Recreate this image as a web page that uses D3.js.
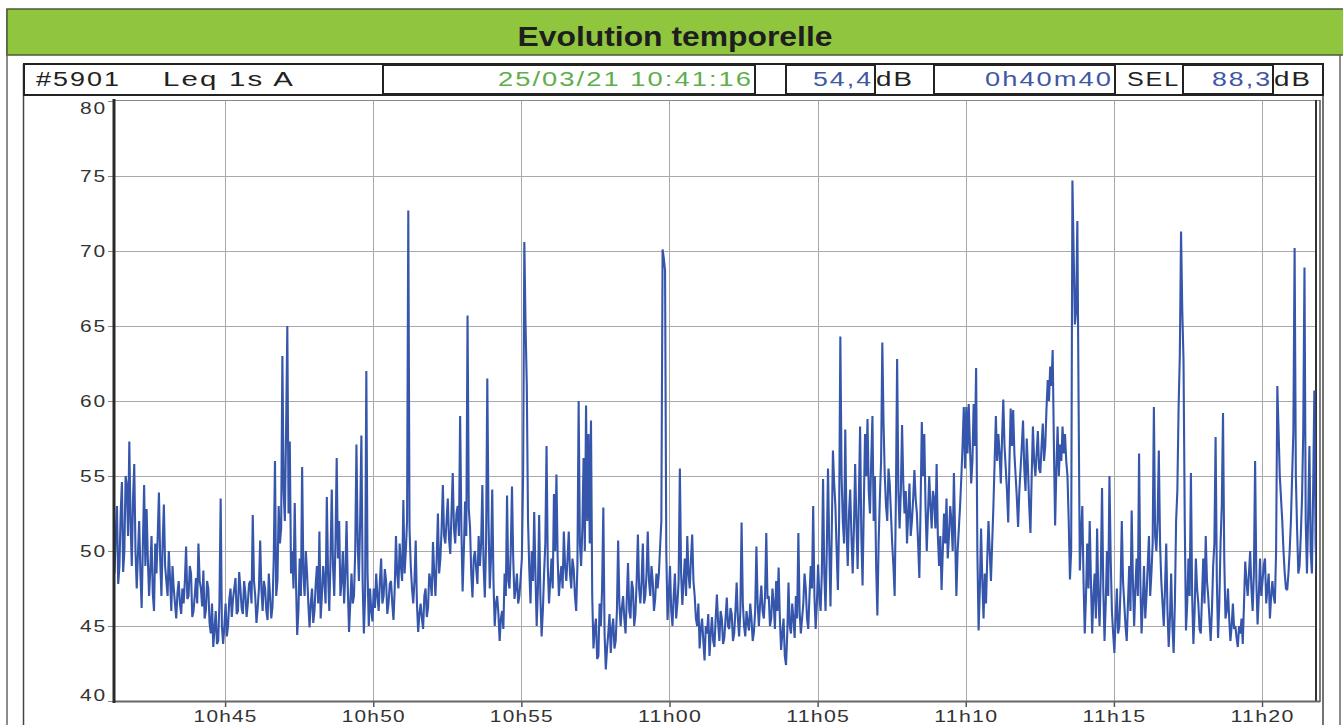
<!DOCTYPE html>
<html>
<head>
<meta charset="utf-8">
<script src="https://cdn.jsdelivr.net/npm/d3@7"></script>
<style>
  body { margin: 0; background: #fff; }
  svg { display: block; }
  text { font-family: "Liberation Sans", Arial, Helvetica, sans-serif; }
</style>
</head>
<body>
<svg id="chart" width="1343" height="725"></svg>
<script>
// Measurement: Leq 1s, A-weighted, one value every 2.5 s from the start time.
const startTime = "2021-03-25T10:41:16";
const endTime = "2021-03-25T11:21:56";
const stepSeconds = 2.5;

const leqValues = [
  48.5, 51.2, 53.0, 47.8, 49.0, 52.5, 54.6, 48.6, 50.0, 55.0, 54.4, 51.0,
  57.3, 52.0, 49.0, 53.5, 55.8, 50.0, 47.5, 49.8, 52.0, 48.5, 46.2, 50.5,
  54.4, 49.0, 52.8, 49.5, 47.0, 48.8, 51.0, 47.2, 46.0, 50.5, 48.5, 51.0,
  53.9, 49.5, 47.0, 50.5, 53.1, 49.0, 48.0, 47.0, 50.0, 48.2, 46.0, 49.0,
  47.5, 46.5, 45.5, 47.2, 48.0, 46.5, 45.8, 47.5, 46.5, 48.0, 50.3, 46.8,
  47.0, 49.0, 48.5, 45.6, 46.0, 47.0, 48.2, 46.5, 50.5, 48.0, 47.5, 46.3,
  48.7, 45.5, 46.0, 48.0, 47.5, 45.2, 44.5, 46.5, 43.6, 44.8, 46.0, 43.8,
  44.0, 46.5, 53.5, 45.0, 43.8, 45.0, 46.5, 44.3, 45.0, 46.8, 47.5, 45.6,
  46.8, 47.5, 48.2, 45.8, 46.0, 48.6, 47.5, 46.2, 45.8, 48.0, 47.2, 45.6,
  46.5, 47.8, 48.0, 46.5, 52.4, 48.0, 47.0, 45.2, 46.2, 47.5, 50.7, 47.5,
  46.0, 48.0, 47.5, 46.0, 45.4, 48.5, 47.0, 45.5, 46.3, 49.5, 56.0, 47.0,
  48.0, 53.0, 50.5, 51.5, 63.0, 54.0, 52.0, 58.0, 65.0, 52.5, 57.3, 48.5,
  50.0, 47.5, 53.2, 48.0, 44.4, 46.0, 49.5, 47.0, 55.6, 48.5, 47.0, 50.0,
  48.5, 46.5, 44.9, 46.5, 47.5, 45.2, 46.0, 47.8, 49.0, 46.5, 51.3, 45.5,
  47.0, 49.0, 48.0, 46.5, 53.6, 48.5, 46.0, 49.5, 54.1, 49.0, 47.0, 50.5,
  56.2, 49.5, 52.0, 47.0, 48.0, 50.0, 46.5, 48.5, 52.0, 47.5, 44.6, 46.5,
  48.5, 46.5, 47.0, 50.0, 57.1, 50.5, 48.0, 52.0, 57.7, 48.0, 44.5, 47.0,
  62.0, 48.5, 45.0, 47.5, 46.0, 45.3, 47.5, 46.2, 48.5, 47.0, 46.0, 48.0,
  49.5, 46.5, 47.0, 48.8, 48.0, 45.8, 46.5, 47.8, 48.0, 46.5, 45.4, 47.5,
  51.0, 48.5, 47.5, 50.5, 49.0, 48.0, 53.4, 48.5, 50.0, 52.0, 72.7, 51.5,
  49.0, 47.5, 46.5, 48.0, 50.7, 46.5, 44.6, 45.8, 46.5, 45.5, 44.8, 47.0,
  47.5, 45.6, 46.2, 48.5, 48.0, 47.0, 50.6, 48.5, 47.0, 49.5, 52.5, 48.5,
  49.5, 51.5, 54.4, 51.0, 50.5, 52.0, 53.5, 50.8, 49.8, 52.5, 55.2, 51.5,
  50.5, 52.5, 53.0, 51.0, 59.0, 51.5, 47.3, 50.0, 53.3, 51.0, 65.7, 52.8,
  51.6, 48.5, 46.9, 49.5, 50.0, 48.8, 47.8, 51.0, 49.0, 50.5, 54.4, 49.0,
  46.9, 50.5, 61.5, 52.0, 47.5, 49.5, 54.1, 48.0, 45.0, 46.5, 47.0, 45.8,
  44.0, 45.5, 46.0, 44.8, 48.5, 47.0, 53.7, 48.0, 47.5, 50.0, 54.3, 49.5,
  46.8, 47.5, 48.5, 46.5, 47.0, 48.2, 49.5, 55.0, 70.6, 65.0, 61.0, 52.0,
  48.8, 46.5, 50.0, 48.0, 52.6, 48.5, 45.0, 47.5, 52.4, 47.0, 44.3, 46.0,
  48.5, 50.5, 57.0, 49.0, 46.5, 48.0, 49.5, 47.5, 53.8, 50.0, 55.1, 49.5,
  47.0, 48.2, 49.0, 47.5, 51.3, 49.0, 48.0, 49.5, 51.3, 48.5, 47.5, 49.5,
  48.8, 47.0, 46.0, 49.0, 60.0, 50.5, 49.0, 51.5, 56.2, 50.0, 59.7, 52.0,
  57.8, 50.5, 58.7, 47.0, 43.5, 44.8, 45.5, 42.8, 43.0, 46.5, 45.0, 47.5,
  52.9, 44.5, 42.1, 43.5, 44.5, 45.8, 43.2, 44.8, 45.5, 43.5, 44.0, 46.0,
  50.7, 46.5, 45.0, 46.2, 47.0, 45.5, 44.5, 46.8, 49.2, 46.0, 45.5, 48.0,
  47.5, 45.0, 45.8, 48.0, 51.1, 47.5, 46.5, 48.0, 50.5, 46.5, 47.0, 48.5,
  51.3, 48.0, 47.0, 49.0, 48.0, 46.0, 46.8, 48.5, 47.5, 48.5, 50.3, 52.0,
  70.1, 69.5, 68.7, 50.0, 45.4, 47.0, 49.0, 46.0, 45.0, 47.0, 48.5, 45.5,
  46.5, 48.0, 55.5, 48.5, 46.4, 48.0, 49.5, 47.0, 51.0, 48.5, 47.5, 49.5,
  51.1, 48.0, 47.0, 45.5, 45.0, 46.5, 43.5, 44.8, 45.5, 44.0, 42.7, 45.0,
  44.5, 45.8, 43.0, 44.5, 45.6, 44.0, 43.6, 45.5, 47.1, 45.2, 44.0, 46.0,
  45.5, 43.8, 44.2, 45.5, 46.9, 45.0, 44.8, 46.2, 45.8, 44.0, 44.5, 46.0,
  47.9, 45.5, 44.3, 46.0, 51.9, 46.5, 45.0, 44.3, 46.0, 45.2, 44.7, 46.5,
  45.5, 44.0, 44.6, 46.0, 50.3, 46.5, 45.0, 46.5, 47.7, 46.0, 45.5, 47.0,
  51.2, 46.8, 47.0, 45.0, 45.5, 47.5, 46.5, 44.8, 48.0, 46.0, 48.9, 45.5,
  43.4, 44.5, 45.5, 43.0, 42.4, 44.5, 47.9, 45.0, 44.5, 46.5, 45.5, 44.2,
  47.0, 45.5, 51.2, 46.0, 44.5, 45.5, 46.5, 48.5, 47.5, 45.5, 44.8, 47.0,
  49.0, 47.5, 53.0, 47.0, 44.8, 46.5, 49.1, 47.0, 46.0, 48.5, 54.8, 48.5,
  46.0, 50.0, 55.5, 50.5, 46.3, 51.0, 56.7, 54.5, 53.0, 50.0, 47.4, 52.0,
  64.3, 55.0, 52.0, 50.5, 58.1, 51.5, 49.0, 52.5, 54.1, 51.0, 48.5, 51.5,
  55.8, 52.0, 48.8, 53.5, 58.3, 51.0, 47.7, 53.0, 57.8, 55.0, 58.8, 54.0,
  52.5, 56.0, 59.0, 52.0, 55.0, 49.0, 45.7, 50.5, 53.5, 56.0, 63.9, 58.5,
  55.0, 53.0, 52.0, 55.5, 54.5, 52.5, 50.5, 49.0, 47.0, 53.5, 62.8, 54.0,
  51.5, 54.0, 58.4, 54.5, 52.5, 54.0, 50.5, 52.5, 54.5, 51.0, 52.0, 53.5,
  55.4, 53.5, 52.5, 50.5, 48.2, 53.0, 58.6, 55.0, 57.8, 53.0, 50.0, 52.5,
  55.0, 53.0, 51.5, 54.0, 53.5, 51.5, 55.8, 51.0, 49.0, 51.0, 47.4, 50.0,
  52.5, 50.5, 53.5, 49.5, 51.0, 53.0, 52.0, 50.0, 55.2, 51.0, 47.0, 50.0,
  51.5, 53.0, 54.9, 57.0, 59.6, 55.5, 59.6, 56.5, 59.8, 57.0, 54.5, 56.0,
  59.8, 57.0, 62.2, 50.0, 44.7, 47.5, 51.5, 48.0, 45.5, 48.5, 46.5, 49.5,
  52.0, 50.0, 48.0, 50.5, 53.0, 56.0, 59.0, 56.0, 57.8, 56.5, 54.5, 57.5,
  60.1, 57.0, 55.5, 54.0, 51.9, 56.0, 59.5, 57.0, 59.4, 56.5, 55.0, 53.5,
  51.6, 54.0, 55.5, 57.0, 58.7, 55.5, 54.0, 57.5, 55.5, 53.0, 51.2, 55.0,
  58.3, 56.0, 55.0, 56.5, 58.0, 55.5, 55.2, 57.0, 58.5, 56.0, 57.0, 59.5,
  61.4, 60.0, 62.3, 61.0, 63.4, 57.0, 51.7, 55.5, 58.3, 55.0, 57.1, 56.0,
  58.3, 56.5, 57.8, 56.0, 55.0, 52.0, 48.1, 50.0, 74.7, 70.0, 65.1, 66.0,
  72.0, 60.0, 48.7, 51.0, 53.0, 48.0, 44.5, 47.0, 50.5, 47.5, 52.0, 48.0,
  44.5, 47.0, 48.5, 45.5, 51.5, 47.0, 45.0, 48.5, 54.2, 47.5, 44.0, 46.5,
  50.0, 47.0, 55.0, 49.5, 46.0, 44.5, 43.2, 45.5, 47.5, 44.5, 45.0, 47.5,
  52.0, 48.0, 46.5, 45.0, 44.0, 46.5, 49.0, 46.0, 52.7, 48.0, 45.0, 47.5,
  49.5, 47.0, 56.5, 48.0, 44.5, 46.5, 49.0, 45.5, 47.0, 49.0, 51.0, 47.0,
  48.5, 50.5, 59.6, 51.0, 50.0, 52.0, 56.7, 50.5, 48.0, 46.5, 45.0, 47.5,
  50.5, 46.0, 43.6, 45.5, 48.5, 45.0, 43.2, 46.5, 52.0, 54.0, 59.5, 63.0,
  71.3, 66.0, 62.7, 52.0, 44.7, 46.5, 49.5, 47.0, 55.2, 47.0, 43.8, 46.0,
  49.5, 47.5, 46.5, 44.8, 44.5, 47.0, 49.5, 46.5, 51.0, 48.0, 47.0, 45.5,
  44.0, 46.0, 49.0, 50.5, 57.6, 48.0, 44.2, 46.5, 50.5, 53.0, 59.2, 49.5,
  45.5, 46.0, 47.5, 45.5, 44.0, 45.0, 46.5, 44.8, 45.0, 44.2, 43.6, 45.0,
  44.5, 45.5, 43.8, 46.5, 49.3, 48.0, 47.0, 48.5, 50.0, 47.5, 46.0, 48.5,
  56.0, 48.0, 45.1, 47.0, 49.5, 47.0, 48.0, 49.0, 49.5, 46.5, 47.5, 48.5,
  45.5, 47.0, 48.0, 47.0, 46.5, 50.0, 61.0, 58.0, 55.0, 53.5, 52.0, 50.0,
  48.5, 47.5, 47.4, 48.5, 50.0, 52.0, 55.0, 58.0, 70.2, 55.0, 51.5, 48.5,
  49.0, 51.0, 53.5, 58.0, 68.9, 52.0, 48.5, 52.5, 57.0, 50.0, 48.5, 54.0,
  60.7, 50.5, 48.3, 50.0, 52.0
];

const yTickValues = [40, 45, 50, 55, 60, 65, 70, 75, 80];
const xTickLabels = ["10h45", "10h50", "10h55", "11h00", "11h05", "11h10", "11h15", "11h20"];

const titleText = "Evolution temporelle";
const stationText = "#5901";
const indicatorText = "Leq 1s  A";
const startLabel = "25/03/21 10:41:16";
const leqTotal = "54,4";
const durationLabel = "0h40m40";
const selValue = "88,3";

// ---- scales ----
const parseT = d3.timeParse("%Y-%m-%dT%H:%M:%S");
const t0 = parseT(startTime);
const tEnd = parseT(endTime);
const data = leqValues.map((v, i) => ({ t: new Date(t0.getTime() + i * stepSeconds * 1000), v }));
const xTickTimes = xTickLabels.map(s => {
  const [h, m] = s.split("h").map(Number);
  const d = new Date(t0); d.setHours(h, m, 0, 0); return d;
});

const plot = { left: 115, right: 1316, top: 101, bottom: 701 };
const x = d3.scaleTime().domain([t0, tEnd]).range([114.5, 1319.3]);
const y = d3.scaleLinear().domain([40, 80]).range([plot.bottom, plot.top]);

const svg = d3.select("#chart");

// ---- frames and header ----
svg.append("line").attr("x1", 7).attr("x2", 7).attr("y1", 9).attr("y2", 725)
  .attr("stroke", "#666").attr("stroke-width", 1.5);
svg.append("line").attr("x1", 1340).attr("x2", 1340).attr("y1", 9).attr("y2", 725)
  .attr("stroke", "#666").attr("stroke-width", 1.5);
svg.append("rect").attr("x", 7).attr("y", 9).attr("width", 1345).attr("height", 46)
  .attr("fill", "#8fc63e").attr("stroke", "#4d5a3a").attr("stroke-width", 1.5);
svg.append("text").attr("x", 675).attr("y", 46).attr("text-anchor", "middle")
  .attr("font-size", 28).attr("font-weight", "bold").attr("fill", "#1e1e1e")
  .attr("textLength", 315).attr("lengthAdjust", "spacingAndGlyphs").text(titleText);

// inner frame sides
svg.append("line").attr("x1", 23.5).attr("x2", 23.5).attr("y1", 64).attr("y2", 725)
  .attr("stroke", "#444").attr("stroke-width", 1.5);
svg.append("line").attr("x1", 1323).attr("x2", 1323).attr("y1", 64).attr("y2", 725)
  .attr("stroke", "#444").attr("stroke-width", 1.5);

// ---- info bar ----
svg.append("rect").attr("x", 24).attr("y", 64).attr("width", 1299).attr("height", 31)
  .attr("fill", "#fff").attr("stroke", "#222").attr("stroke-width", 2);
const boxes = [[383, 755], [786, 875], [934, 1115], [1183, 1273]];
boxes.forEach(([a, b]) => {
  svg.append("rect").attr("x", a).attr("y", 65).attr("width", b - a).attr("height", 29)
    .attr("fill", "none").attr("stroke", "#222").attr("stroke-width", 2);
});
const infoItems = [
  { t: stationText, x: 36, w: 85, c: "#222" },
  { t: indicatorText, x: 163, w: 132, c: "#222" },
  { t: startLabel, x: 498, w: 255, c: "#5fae4b" },
  { t: leqTotal, x: 813, w: 60, c: "#4057a6" },
  { t: "dB", x: 876, w: 38, c: "#222" },
  { t: durationLabel, x: 985, w: 128, c: "#4057a6" },
  { t: "SEL", x: 1127, w: 53, c: "#222" },
  { t: selValue, x: 1212, w: 60, c: "#4057a6" },
  { t: "dB", x: 1274, w: 38, c: "#222" }
];
infoItems.forEach(d => {
  svg.append("text").attr("x", d.x).attr("y", 86).attr("font-size", 20)
    .attr("letter-spacing", 1.5)
    .attr("fill", d.c).attr("textLength", d.w).attr("lengthAdjust", "spacingAndGlyphs").text(d.t);
});

// ---- plot area ----
svg.append("defs").append("clipPath").attr("id", "plotClip")
  .append("rect").attr("x", plot.left).attr("y", plot.top - 2)
  .attr("width", plot.right - plot.left).attr("height", plot.bottom - plot.top + 2);

const grid = svg.append("g").attr("stroke", "#a9a9a9").attr("stroke-width", 1);
xTickTimes.forEach(t => {
  const xx = Math.round(x(t)) + 0.5;
  grid.append("line").attr("x1", xx).attr("x2", xx).attr("y1", plot.top).attr("y2", plot.bottom);
});
yTickValues.filter(v => v > 40 && v < 80).forEach(v => {
  const yy = Math.round(y(v)) + 0.5;
  grid.append("line").attr("x1", plot.left).attr("x2", plot.right).attr("y1", yy).attr("y2", yy);
});

// top and right plot borders
svg.append("line").attr("x1", plot.left).attr("x2", 1320).attr("y1", 100.5).attr("y2", 100.5)
  .attr("stroke", "#888").attr("stroke-width", 1);
svg.append("line").attr("x1", 1316).attr("x2", 1316).attr("y1", 100).attr("y2", 702)
  .attr("stroke", "#333").attr("stroke-width", 2);
svg.append("line").attr("x1", 1320).attr("x2", 1320).attr("y1", 100).attr("y2", 702)
  .attr("stroke", "#555").attr("stroke-width", 1.5);

// series
const line = d3.line().x(d => x(d.t)).y(d => y(d.v));
svg.append("path").datum(data).attr("clip-path", "url(#plotClip)")
  .attr("fill", "none").attr("stroke", "#3556ab").attr("stroke-width", 2.1)
  .attr("stroke-linejoin", "miter").attr("stroke-miterlimit", 2).attr("d", line);

// x axis
const xAxis = svg.append("g").attr("transform", `translate(0,${plot.bottom})`)
  .call(d3.axisBottom(x).tickValues(xTickTimes).tickFormat((d, i) => xTickLabels[i])
    .tickSizeInner(6).tickSizeOuter(0).tickPadding(3));
xAxis.select(".domain").remove();
xAxis.selectAll(".tick line").attr("stroke", "#555").attr("stroke-width", 1.5);
xAxis.selectAll(".tick text").attr("font-size", 17).attr("fill", "#333")
  .attr("font-family", "'Liberation Sans', Arial, sans-serif")
  .attr("letter-spacing", 1)
  .attr("textLength", 64).attr("lengthAdjust", "spacingAndGlyphs");
svg.append("line").attr("x1", 114).attr("x2", 1320).attr("y1", plot.bottom + 0.5).attr("y2", plot.bottom + 0.5)
  .attr("stroke", "#666").attr("stroke-width", 2);

// y axis
const yAxis = svg.append("g").attr("transform", "translate(114,0)")
  .call(d3.axisLeft(y).tickValues(yTickValues).tickSizeInner(6).tickSizeOuter(0).tickPadding(1));
yAxis.select(".domain").remove();
yAxis.selectAll(".tick line").attr("stroke", "#888").attr("stroke-width", 1);
yAxis.selectAll(".tick text").attr("font-size", 17).attr("fill", "#333")
  .attr("font-family", "'Liberation Sans', Arial, sans-serif")
  .attr("letter-spacing", 1.5)
  .attr("textLength", 27).attr("lengthAdjust", "spacingAndGlyphs")
  .attr("dy", d => d === 80 ? "0.72em" : d === 40 ? "-0.05em" : "0.32em");
svg.append("line").attr("x1", 114).attr("x2", 114).attr("y1", 99).attr("y2", 703)
  .attr("stroke", "#2a2a2a").attr("stroke-width", 3);
</script>
</body>
</html>
